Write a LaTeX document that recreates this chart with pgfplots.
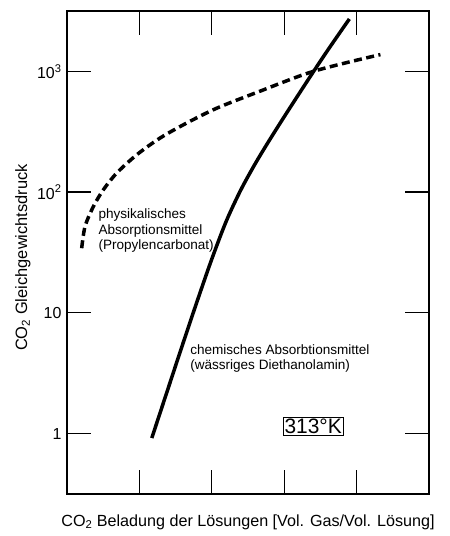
\documentclass[border=0pt]{standalone}
\usepackage{pgfplots}
\pgfplotsset{compat=1.18}
\usepackage{fontspec}
\setmainfont{Liberation Sans}
\begin{document}
\begin{tikzpicture}
\begin{axis}[name=ax,
  scale only axis, width=362bp, height=483bp,
  xmin=0, xmax=5, ymode=log, ymin=0.316, ymax=3162,
  xtick={1,2,3,4}, xticklabels={},
  ytick={1,10,100,1000},
  yticklabels={1,10,10\textsuperscript{2},10\textsuperscript{3}},
  yminorticks=false, xminorticks=false,
  tick align=inside, major tick length=24bp,
  axis line style={line width=1.5bp},
  every tick/.style={line width=1.3bp, black},
  tick label style={font=\fontsize{16}{18}\selectfont},
  yticklabel style={xshift=-2bp},
  clip=false]
\addplot[black, line width=3.5bp, smooth] coordinates {
  (1.171,0.918) (1.4,2.399) (1.6,5.546) (1.8,12.60) (2.0,27.9)
  (2.2,57.5) (2.4,104.0) (2.6,172.0) (2.8,271.6) (3.0,420.7)
  (3.2,645.7) (3.4,986.3) (3.6,1493) (3.8,2228) (3.9,2716)};
\addplot[black, line width=3.5bp, smooth, dash pattern=on 8bp off 4.5bp] coordinates {
  (0.203,34.3) (0.249,51.9) (0.364,75.9) (0.502,104.5) (0.687,143.9)
  (0.964,203.9) (1.286,280.5) (1.656,374.1) (2.071,496.2) (2.624,669.9)
  (3.407,1002) (4.329,1377)};
\node[anchor=north west, inner sep=0pt, align=left,
  font=\fontsize{13.6}{15.5}\selectfont] at (axis cs:0.433,72.7)
  {physikalisches\\Absorptionsmittel\\(Propylencarbonat)};
\node[anchor=north west, inner sep=0pt, align=left,
  font=\fontsize{13.6}{15}\selectfont] at (axis cs:1.70,5.51)
  {chemisches Absorbtionsmittel\\(wässriges Diethanolamin)};
\node[draw, line width=0.8bp, inner sep=1.5bp,
  font=\fontsize{21}{22}\selectfont] at (axis cs:3.40,1.15) {313°K};
\end{axis}
\node[font=\fontsize{16.2}{18}\selectfont] at ([yshift=-28bp]ax.south)
  {CO\textsubscript{2} Beladung der Lösungen [Vol. Gas/Vol. Lösung]};
\node[rotate=90, font=\fontsize{16.5}{18}\selectfont] at ([xshift=-44bp,yshift=-5bp]ax.west)
  {CO\textsubscript{2} Gleichgewichtsdruck};
\pgfresetboundingbox
\path[use as bounding box] ([xshift=-67bp,yshift=-42bp]ax.south west)
  rectangle ([xshift=21bp,yshift=11bp]ax.north east);
\end{tikzpicture}
\end{document}
